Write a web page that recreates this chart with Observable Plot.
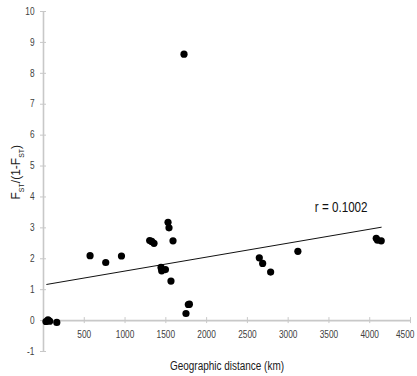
<!DOCTYPE html>
<html>
<head>
<meta charset="utf-8">
<script src="https://cdn.jsdelivr.net/npm/d3@7"></script>
<script src="https://cdn.jsdelivr.net/npm/@observablehq/plot@0.6"></script>
<style>
  html, body { margin: 0; padding: 0; background: #fff; }
  #chart svg { display: block; }
</style>
</head>
<body>
<div id="chart"></div>
<script>
// Data
const distanceKm = [30, 55, 75, 163, 571, 763, 956, 1302, 1327, 1355, 1527, 1539, 1588, 1441, 1449, 1495, 1563, 1747, 1776, 1789, 1723, 2646, 2687, 2785, 3119, 4080, 4096, 4141];
const fstRatio   = [-0.03, 0.02, -0.02, -0.06, 2.10, 1.88, 2.09, 2.59, 2.56, 2.50, 3.18, 3.00, 2.58, 1.72, 1.61, 1.65, 1.28, 0.23, 0.52, 0.53, 8.62, 2.03, 1.85, 1.57, 2.24, 2.66, 2.60, 2.58];
const trendX = [40, 4141];
const trendY = [1.17, 3.02];
const xTicks = [500, 1000, 1500, 2000, 2500, 3000, 3500, 4000, 4500];
const yTicks = [-1, 0, 1, 2, 3, 4, 5, 6, 7, 8, 9, 10];
const rLabel = "r = 0.1002";
const xTitle = "Geographic distance (km)";

const points = distanceKm.map((d, i) => ({x: d, y: fstRatio[i]}));
const trend = trendX.map((d, i) => ({x: d, y: trendY[i]}));
const xTicksInner = xTicks.slice(0, -1);
const xTickLast = xTicks.slice(-1);

const font = "'Liberation Sans', Arial, sans-serif";
const axisColor = "#c8c8c8";
const textColor = "#404040";

const chart = Plot.plot({
  width: 417,
  height: 376,
  marginLeft: 43,
  marginRight: 7,
  marginTop: 11,
  marginBottom: 25,
  style: {fontFamily: font, background: "#fff"},
  x: {domain: [0, 4500], axis: null},
  y: {domain: [-1, 10], axis: null},
  marks: [
    // y axis line and ticks
    Plot.ruleX([0], {y1: -1, y2: 10, stroke: axisColor, strokeWidth: 1.6}),
    Plot.ruleY(yTicks, {x1: 0, x2: 0, insetLeft: -3, insetRight: -3, stroke: axisColor, strokeWidth: 1}),
    // x axis line at y = 0 and ticks
    Plot.ruleY([0], {x1: 0, x2: 4500, stroke: axisColor, strokeWidth: 1.6}),
    Plot.ruleX(xTicks, {y1: 0, y2: 0, insetTop: -3, insetBottom: -3, stroke: axisColor, strokeWidth: 1}),
    // tick labels
    Plot.text(yTicks, {x: 0, y: d => d, text: d => String(d), textAnchor: "end", dx: -9, fontSize: 10, fill: textColor, className: "narrow"}),
    Plot.text(xTicksInner, {x: d => d, y: 0, text: d => String(d), dy: 14, fontSize: 10, fill: textColor, className: "narrow"}),
    Plot.text(xTickLast, {x: d => d, y: 0, text: d => String(d), dy: 14, dx: 4, textAnchor: "end", fontSize: 10, fill: textColor, className: "narrow"}),
    // axis titles
    Plot.text([xTitle], {frameAnchor: "bottom", dy: 18, dx: 0, text: d => d, fontSize: 12, fill: "#202020", className: "narrow"}),
    Plot.text(["ylabel"], {frameAnchor: "left", dx: -27, dy: 18, rotate: -90, text: d => d, fontSize: 12, fill: "#202020", className: "ylab"}),
    // trend line
    Plot.line(trend, {x: "x", y: "y", stroke: "#111", strokeWidth: 1}),
    // points
    Plot.dot(points, {x: "x", y: "y", r: 3.6, fill: "#000", stroke: "none"}),
    // r label
    Plot.text([rLabel], {x: 3650, y: 3.65, text: d => d, fontSize: 14, fill: "#111", className: "narrow"})
  ]
});

document.getElementById("chart").appendChild(chart);

// Rebuild the y-axis title with subscripts
d3.select(chart).selectAll(".ylab text").each(function() {
  const t = d3.select(this);
  t.text(null);
  const parts = [["F", false], ["ST", true], ["/(1-F", false], ["ST", true], [")", false]];
  for (const [s, sub] of parts) {
    const ts = t.append("tspan").text(s);
    if (sub) ts.attr("font-size", 7).attr("baseline-shift", "sub");
  }
});

// Emulate the narrow typeface of the original
d3.select(chart).selectAll(".narrow text").each(function() {
  const len = this.getComputedTextLength();
  if (len > 0) {
    this.setAttribute("textLength", (len * 0.83).toFixed(1));
    this.setAttribute("lengthAdjust", "spacingAndGlyphs");
  }
});
</script>
</body>
</html>
